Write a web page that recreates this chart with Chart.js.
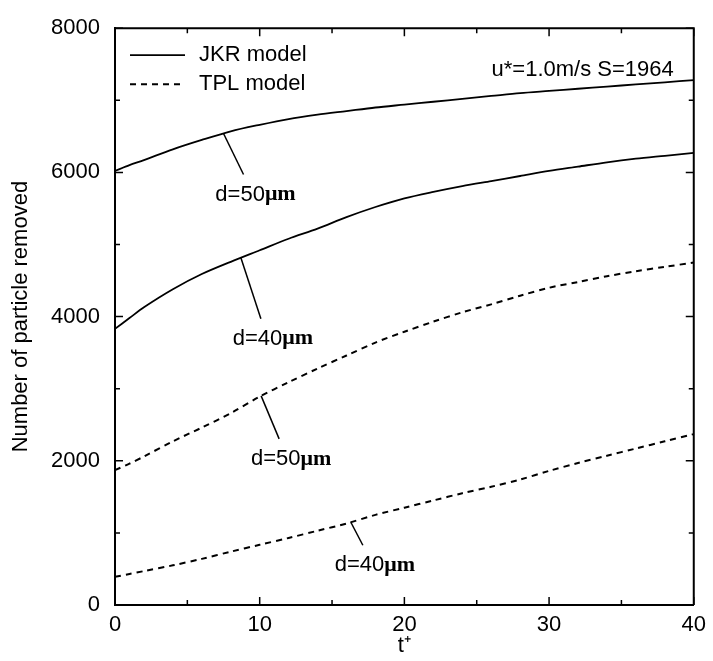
<!DOCTYPE html>
<html>
<head>
<meta charset="utf-8">
<script src="https://cdn.jsdelivr.net/npm/chart.js@4"></script>
<style>
  body { margin: 0; background: #fff; }
  #wrap { width: 713px; height: 661px; position: relative; }
</style>
</head>
<body>
<div id="wrap"><canvas id="chart"></canvas></div>
<script>
// time values t+ shared by all curves
const tPoints = [0, 1, 2, 4, 6, 8, 10, 12, 14, 16, 18, 20, 22, 24, 26, 28, 30, 32, 34, 36, 38, 40];

// number of particles removed
const jkr50 = [6020, 6100, 6170, 6320, 6450, 6570, 6660, 6740, 6800, 6850, 6900, 6940, 6980, 7020, 7060, 7100, 7130, 7160, 7190, 7220, 7250, 7280];
const jkr40 = [3830, 3980, 4130, 4380, 4590, 4760, 4920, 5080, 5220, 5380, 5520, 5640, 5730, 5810, 5880, 5950, 6020, 6080, 6140, 6190, 6230, 6270];
const tpl50 = [1870, 1960, 2060, 2270, 2460, 2660, 2890, 3090, 3280, 3460, 3640, 3790, 3930, 4060, 4170, 4290, 4400, 4480, 4560, 4630, 4690, 4750];
const tpl40 = [390, 430, 470, 550, 640, 740, 835, 930, 1030, 1130, 1250, 1350, 1450, 1550, 1640, 1740, 1860, 1970, 2070, 2170, 2270, 2370];

const xTicks = [0, 10, 20, 30, 40];
const yTicks = [0, 2000, 4000, 6000, 8000];

const legendLabels = ["JKR model", "TPL model"];
const noteText = "u*=1.0m/s S=1964";

// curve labels: which dataset, where the leader starts (t), the text
const labelSeries = [0, 1, 2, 3];
const labelT = [7.5, 8.7, 10.1, 16.3];
const labelNum = ["d=50", "d=40", "d=50", "d=40"];

const sans = "'Liberation Sans', Arial, sans-serif";
const serif = "'Liberation Serif', 'Times New Roman', serif";

function toXY(ys) {
  return tPoints.map((t, i) => ({ x: t, y: ys[i] }));
}

function lineSet(label, ys, dash) {
  return {
    label: label,
    data: toXY(ys),
    borderColor: "#000",
    borderWidth: dash ? 2 : 1.8,
    borderDash: dash ? [6, 5] : [],
    pointRadius: 0,
    tension: 0.3,
    fill: false,
  };
}

// value on a series at a given t (linear between points)
function valueAt(ys, t) {
  for (let i = 0; i < tPoints.length - 1; i++) {
    if (t >= tPoints[i] && t <= tPoints[i + 1]) {
      const f = (t - tPoints[i]) / (tPoints[i + 1] - tPoints[i]);
      return ys[i] + f * (ys[i + 1] - ys[i]);
    }
  }
  return ys[ys.length - 1];
}

const seriesList = [jkr50, jkr40, tpl50, tpl40];

const framePlugin = {
  id: "frame",
  afterDraw(chart) {
    const ctx = chart.ctx;
    const a = chart.chartArea;
    const xs = chart.scales.x;
    const ys = chart.scales.y;
    ctx.save();
    ctx.strokeStyle = "#000";
    ctx.fillStyle = "#000";

    // top and right border
    ctx.lineWidth = 2;
    ctx.beginPath();
    ctx.moveTo(a.left, a.top);
    ctx.lineTo(a.right, a.top);
    ctx.lineTo(a.right, a.bottom);
    ctx.stroke();

    // inward ticks on all four sides
    ctx.lineWidth = 1.5;
    for (let t = 0; t <= 40; t += 5) {
      const px = xs.getPixelForValue(t);
      const len = t % 10 === 0 ? 8 : 5;
      ctx.beginPath();
      ctx.moveTo(px, a.bottom); ctx.lineTo(px, a.bottom - len);
      ctx.moveTo(px, a.top); ctx.lineTo(px, a.top + len);
      ctx.stroke();
    }
    for (let v = 0; v <= 8000; v += 1000) {
      const py = ys.getPixelForValue(v);
      const len = v % 2000 === 0 ? 8 : 5;
      ctx.beginPath();
      ctx.moveTo(a.left, py); ctx.lineTo(a.left + len, py);
      ctx.moveTo(a.right, py); ctx.lineTo(a.right - len, py);
      ctx.stroke();
    }

    // legend: one solid and one dashed sample
    ctx.font = "22px " + sans;
    ctx.textBaseline = "middle";
    [0, 2].forEach((d, i) => {
      const ds = chart.data.datasets[d];
      const y = a.top + 27 + i * 29;
      ctx.lineWidth = ds.borderWidth;
      ctx.setLineDash(ds.borderDash);
      ctx.beginPath();
      ctx.moveTo(a.left + 15, y);
      ctx.lineTo(a.left + 70, y);
      ctx.stroke();
      ctx.setLineDash([]);
      ctx.textAlign = "left";
      ctx.fillText(legendLabels[i], a.left + 84, y);
    });

    // note in the upper right
    ctx.textAlign = "right";
    ctx.fillText(noteText, a.right - 20, a.top + 42);

    // curve labels with leader lines
    ctx.lineWidth = 1.5;
    const offs = [[20, 41], [20, 61], [18, 43], [12, 23]];
    labelSeries.forEach((s, i) => {
      const t = labelT[i];
      const x0 = xs.getPixelForValue(t);
      const y0 = ys.getPixelForValue(valueAt(seriesList[s], t));
      const x1 = x0 + offs[i][0];
      const y1 = y0 + offs[i][1];
      ctx.beginPath();
      ctx.moveTo(x0, y0);
      ctx.lineTo(x1, y1);
      ctx.stroke();
      // text: number part sans, unit part serif bold
      ctx.font = "22px " + sans;
      const w1 = ctx.measureText(labelNum[i]).width;
      ctx.font = "bold 22px " + serif;
      const w2 = ctx.measureText("\u03bcm").width;
      const left = x1 - (w1 + w2) / 2 + 12;
      const ty = y1 + 20;
      ctx.textAlign = "left";
      ctx.font = "22px " + sans;
      ctx.fillText(labelNum[i], left, ty);
      ctx.font = "bold 22px " + serif;
      ctx.fillText("\u03bcm", left + w1, ty);
    });
    ctx.restore();
  },
};

Chart.defaults.font.family = sans;
Chart.defaults.color = "#000";

new Chart(document.getElementById("chart"), {
  type: "line",
  data: {
    datasets: [
      lineSet("JKR d=50", jkr50, false),
      lineSet("JKR d=40", jkr40, false),
      lineSet("TPL d=50", tpl50, true),
      lineSet("TPL d=40", tpl40, true),
    ],
  },
  options: {
    responsive: true,
    maintainAspectRatio: false,
    animation: false,
    layout: { padding: { top: 16, right: 15, left: 0, bottom: 0 } },
    plugins: { legend: { display: false }, tooltip: { enabled: false } },
    scales: {
      x: {
        type: "linear",
        min: 0,
        max: 40,
        afterBuildTicks: (s) => { s.ticks = xTicks.map((v) => ({ value: v })); },
        afterFit: (s) => { s.height = 56; },
        ticks: { font: { size: 22 }, padding: 7, maxRotation: 0 },
        grid: { display: true, drawOnChartArea: false, drawTicks: false },
        border: { display: true, color: "#000", width: 2 },
        title: { display: true, text: "t\u207a", font: { size: 22 }, padding: { top: 0, bottom: 2 } },
      },
      y: {
        min: 0,
        max: 8000,
        afterBuildTicks: (s) => { s.ticks = yTicks.map((v) => ({ value: v })); },
        afterFit: (s) => { s.width = 115; },
        ticks: { font: { size: 22 }, padding: 15, callback: (v) => String(v) },
        grid: { display: true, drawOnChartArea: false, drawTicks: false },
        border: { display: true, color: "#000", width: 2 },
        title: { display: true, text: "Number of particle removed", font: { size: 22 }, padding: { top: 8, bottom: 0 } },
      },
    },
  },
  plugins: [framePlugin],
});
</script>
</body>
</html>
